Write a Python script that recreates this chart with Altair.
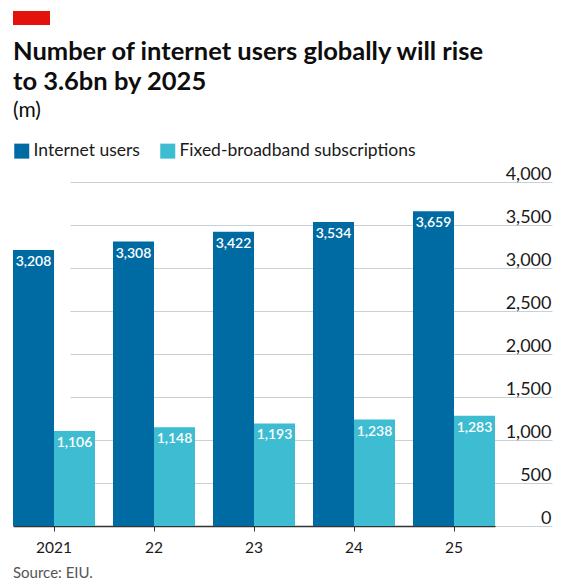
import altair as alt
import pandas as pd

years = ["2021", "22", "23", "24", "25"]
internet_users = [3208, 3308, 3422, 3534, 3659]
broadband = [1106, 1148, 1193, 1238, 1283]
series_names = ["Internet users", "Fixed-broadband subscriptions"]
y_ticks = [0, 500, 1000, 1500, 2000, 2500, 3000, 3500, 4000]

rows = []
for i, yr in enumerate(years):
    rows.append({"year": yr, "series": series_names[0], "value": internet_users[i]})
    rows.append({"year": yr, "series": series_names[1], "value": broadband[i]})
df = pd.DataFrame(rows)

FONT = "Lato"
DARK = "#006BA2"
LIGHT = "#3EBCD2"
W, H = 539, 344

x_enc = alt.X(
    "year:N", sort=years,
    scale=alt.Scale(range=[0, 482], paddingInner=0.18, paddingOuter=0),
    axis=alt.Axis(title=None, labelAngle=0, domainColor="#333333", domainWidth=1.5,
                  tickColor="#333333", tickSize=5, labelPadding=9, labelFontSize=15.5,
                  labelColor="#1a1a1a", grid=False, labelFont=FONT),
)
xo_enc = alt.XOffset("series:N", sort=series_names,
                     scale=alt.Scale(paddingInner=0, paddingOuter=0))
y_enc = alt.Y(
    "value:Q", scale=alt.Scale(domain=[0, 4000]),
    axis=alt.Axis(title=None, orient="right", values=y_ticks, format=",.0f", grid=True,
                  gridColor="#C7D2D8", gridWidth=1, domain=False, ticks=False,
                  labelAlign="right", labelBaseline="alphabetic", labelPadding=-1,
                  labelOffset=-3, labelFontSize=18, labelColor="#1a1a1a", labelFont=FONT),
)

base = alt.Chart(df)

bars = base.mark_bar().encode(
    x=x_enc, xOffset=xo_enc, y=y_enc,
    color=alt.Color("series:N", sort=series_names,
                    scale=alt.Scale(domain=series_names, range=[DARK, LIGHT]),
                    legend=alt.Legend(orient="top", title=None, direction="horizontal",
                                      symbolType="square", symbolSize=225,
                                      symbolStrokeWidth=0, labelFontSize=17.5,
                                      labelFont=FONT, labelColor="#1a1a1a",
                                      labelLimit=0, columnPadding=19, padding=0,
                                      offset=22, labelOffset=3)),
)

labels = base.mark_text(dy=12, color="white", fontSize=14, fontWeight=600,
                        font=FONT, baseline="middle").encode(
    x=x_enc, xOffset=xo_enc, y=y_enc,
    text=alt.Text("value:Q", format=","),
)

deco = pd.DataFrame({"t": ["Source: EIU."], "u": ["(m)"]})
red = alt.Chart(deco).mark_rect(color="#E3120B").encode(
    x=alt.value(0), x2=alt.value(37), y=alt.value(-171), y2=alt.value(-157))
unit = alt.Chart(deco).mark_text(align="left", baseline="middle", fontSize=21,
                                 font=FONT, color="#0d0d0d").encode(
    x=alt.value(0), y=alt.value(-71), text="u:N")
source = alt.Chart(deco).mark_text(align="left", baseline="middle", fontSize=15,
                                   font=FONT, color="#555555").encode(
    x=alt.value(0), y=alt.value(H + 47), text="t:N")

chart = alt.layer(bars, labels, red, unit, source).properties(
    width=W, height=H,
    title=alt.Title(
        text=["Number of internet users globally will rise", "to 3.6bn by 2025"],
        anchor="start", frame="group", font=FONT,
        fontSize=25.5, fontWeight="bold", lineHeight=30, color="#0d0d0d",
        offset=-84),
    autosize=alt.AutoSizeParams(type="none"),
    padding={"left": 13, "top": 182, "right": 13, "bottom": 57},
).configure_view(stroke=None)

chart.save("out.html", embed_options={"renderer": "svg", "actions": False})
